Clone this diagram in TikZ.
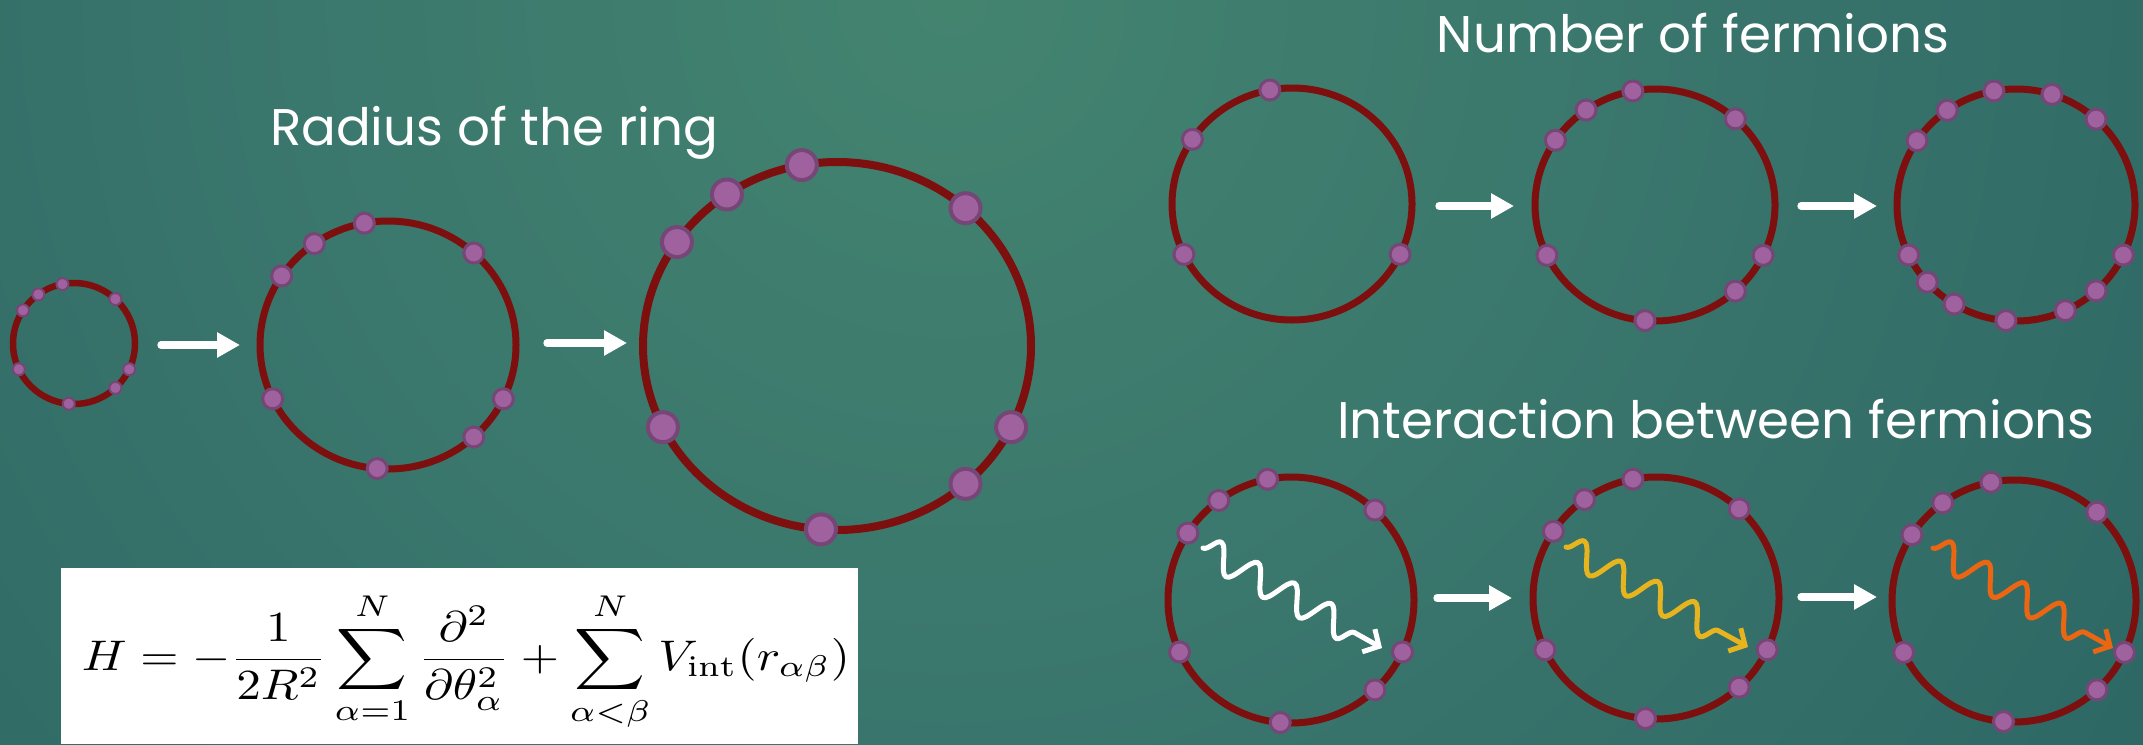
\documentclass[tikz,border=0pt]{standalone}
\usepackage{fontspec}
\usepackage{graphicx}
\usetikzlibrary{shapes.geometric,arrows.meta,decorations.pathmorphing}
\newfontfamily\titlefont{Poppins}
\definecolor{ringred}{HTML}{7E0F0F}
\definecolor{dotfill}{HTML}{A0629E}
\definecolor{dotedge}{HTML}{764676}
\definecolor{waveyellow}{HTML}{E6B41E}
\definecolor{waveorange}{HTML}{EA6612}
\definecolor{bgA}{HTML}{43846F}
\definecolor{bgB}{HTML}{3B786D}
\definecolor{bgC}{HTML}{2E6865}
\definecolor{bgD}{HTML}{21565C}
\definecolor{bgE}{HTML}{1A4754}
\definecolor{bgF}{HTML}{143545}
\pgfdeclareradialshading{bgshade}{\pgfpoint{0bp}{0bp}}{color(0bp)=(bgA); color(10bp)=(bgB); color(23bp)=(bgC); color(33bp)=(bgD); color(40bp)=(bgE); color(47bp)=(bgF); color(50bp)=(bgF)}
\tikzset{
  ring/.style={ellipse, draw=ringred, line width=7pt, inner sep=0pt, outer sep=0pt},
  fdotS/.style={circle, fill=dotfill, draw=dotedge, line width=2pt, minimum size=12pt, inner sep=0pt},
  fdotM/.style={circle, fill=dotfill, draw=dotedge, line width=3pt, minimum size=20pt, inner sep=0pt},
  fdotL/.style={circle, fill=dotfill, draw=dotedge, line width=4pt, minimum size=30pt, inner sep=0pt},
  blockarrow/.style={draw=white, line width=7.3pt, line cap=round, -{Triangle[length=23pt,width=24pt]}},
  wave/.style={line width=5pt, line cap=round, line join=round,
    decorate, decoration={snake, amplitude=14pt, segment length=42pt, post length=16pt},
    -{Straight Barb[length=12pt,width=26pt]}},
  titletext/.style={text=white, font=\titlefont\fontsize{51.5}{58}\selectfont, anchor=base, inner sep=0pt},
}
\begin{document}
\begin{tikzpicture}[x=1pt,y=-1pt]
\useasboundingbox (0,0) rectangle (2143,744);
\begin{scope}
\clip (0,0) rectangle (2143,744);
\fill[shading=bgshade] (950,0) circle (1500);
\end{scope}

% titles
\node[titletext] (t1) at (494,145) {Radius of the ring};
\node[titletext] (t2) at (1693,52) {Number of fermions};
\node[titletext] (t3) at (1716,438) {Interaction between fermions};

% radius row
\node[ring, line width=6.5pt, minimum width=122pt, minimum height=121pt] (R1) at (74,343.5) {};
\foreach \a in {47,101,126,147,205,265,313,335} \node[fdotS] (R1d\a) at (R1.\a) {};
\node[ring, minimum width=256pt, minimum height=248pt] (R2) at (388,345) {};
\foreach \a in {47,101,126,147,205,265,313,335} \node[fdotM] (R2d\a) at (R2.\a) {};
\node[ring, line width=8pt, minimum width=388pt, minimum height=368pt] (R3) at (837,346) {};
\foreach \a in {47,101,126,147,205,265,313,335} \node[fdotL] (R3d\a) at (R3.\a) {};

\coordinate (a1s) at (161,345); \coordinate (a1e) at (240,345);
\coordinate (a2s) at (547,343); \coordinate (a2e) at (627,343);
\draw[blockarrow] (a1s) -- (a1e);
\draw[blockarrow] (a2s) -- (a2e);

% number of fermions row
\node[ring, minimum width=240pt, minimum height=232pt] (NA) at (1292,204) {};
\foreach \a in {101,147,205,335} \node[fdotM] (NAd\a) at (NA.\a) {};
\node[ring, minimum width=240pt, minimum height=232pt] (NB) at (1655,205) {};
\foreach \a in {47,101,126,147,205,265,313,335} \node[fdotM] (NBd\a) at (NB.\a) {};
\node[ring, minimum width=238pt, minimum height=232pt] (NC) at (2016,205) {};
\foreach \a in {47,72,101,126,147,205,221,238,265,295,313,335} \node[fdotM] (NCd\a) at (NC.\a) {};

\coordinate (a3s) at (1439,206); \coordinate (a3e) at (1514,206);
\coordinate (a4s) at (1801,206); \coordinate (a4e) at (1877,206);
\draw[blockarrow] (a3s) -- (a3e);
\draw[blockarrow] (a4s) -- (a4e);

% interaction row
\node[ring, minimum width=246pt, minimum height=246pt] (ID) at (1291,600) {};
\foreach \a in {47,101,126,147,205,265,313,335} \node[fdotM] (IDd\a) at (ID.\a) {};
\node[ring, minimum width=246pt, minimum height=242pt] (IE) at (1656,598) {};
\foreach \a in {47,101,126,147,205,265,313,335} \node[fdotM] (IEd\a) at (IE.\a) {};
\node[ring, minimum width=244pt, minimum height=242pt] (IF) at (2014,601) {};
\foreach \a in {47,101,126,147,205,265,313,335} \node[fdotM] (IFd\a) at (IF.\a) {};

\coordinate (a5s) at (1437,598); \coordinate (a5e) at (1512,598);
\coordinate (a6s) at (1801,597); \coordinate (a6e) at (1877,597);
\draw[blockarrow] (a5s) -- (a5e);
\draw[blockarrow] (a6s) -- (a6e);

\coordinate (wDs) at (1203,548); \coordinate (wDe) at (1382,648);
\coordinate (wEs) at (1566,547); \coordinate (wEe) at (1748,647);
\coordinate (wFs) at (1933,548); \coordinate (wFe) at (2113,648);
\draw[wave, draw=white] (wDs) -- (wDe);
\draw[wave, draw=waveyellow] (wEs) -- (wEe);
\draw[wave, draw=waveorange] (wFs) -- (wFe);

% formula
\node[fill=white, minimum width=797pt, minimum height=176pt, inner sep=0pt, outer sep=0pt] (fbox) at (459.5,656) {};
\node[inner sep=0pt] (H) at (466,662) {\resizebox*{768pt}{140pt}{$\displaystyle H=-\frac{1}{2R^2}\sum_{\alpha=1}^{N}\frac{\partial^2}{\partial\theta_\alpha^2}+\sum_{\alpha<\beta}^{N}V_{\mathrm{int}}(r_{\alpha\beta})$}};
\end{tikzpicture}
\end{document}
